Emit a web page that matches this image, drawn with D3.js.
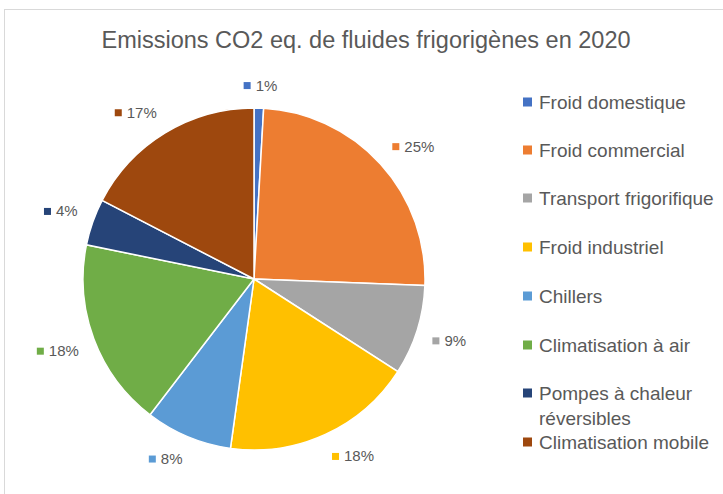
<!DOCTYPE html>
<html>
<head>
<meta charset="utf-8">
<script src="https://cdn.jsdelivr.net/npm/d3@7"></script>
<style>
  body { margin: 0; background: #fff; }
  text { font-family: "Liberation Sans", Arial, sans-serif; fill: #595959; }
</style>
</head>
<body>
<script>
const categories = ["Froid domestique", "Froid commercial", "Transport frigorifique", "Froid industriel",
  "Chillers", "Climatisation à air", "Pompes à chaleur réversibles", "Climatisation mobile"];
const values = [0.9, 24.7, 8.5, 18.1, 8.2, 17.8, 4.4, 17.4];
const pctLabels = ["1%", "25%", "9%", "18%", "8%", "18%", "4%", "17%"];
const legendLines = [["Froid domestique"], ["Froid commercial"], ["Transport frigorifique"], ["Froid industriel"],
  ["Chillers"], ["Climatisation à air"], ["Pompes à chaleur", "réversibles"], ["Climatisation mobile"]];
const colors = ["#4472C4", "#ED7D31", "#A5A5A5", "#FFC000", "#5B9BD5", "#70AD47", "#264478", "#9E480E"];

const width = 723, height = 494;
const cx = 254, cy = 279, radius = 171;

const svg = d3.select("body").append("svg")
  .attr("width", width)
  .attr("height", height);

// chart frame
svg.append("rect")
  .attr("x", 4.5).attr("y", 9.5)
  .attr("width", 760).attr("height", 520)
  .attr("fill", "none")
  .attr("stroke", "#d9d9d9");

svg.append("text")
  .attr("x", 366).attr("y", 48)
  .attr("text-anchor", "middle")
  .style("font-size", "23.5px")
  .text("Emissions CO2 eq. de fluides frigorigènes en 2020");

const pie = d3.pie().sort(null).value(d => d)
const arcs = pie(values);
const arc = d3.arc().innerRadius(0).outerRadius(radius);

const g = svg.append("g").attr("transform", `translate(${cx},${cy})`);

g.selectAll("path")
  .data(arcs)
  .enter()
  .append("path")
    .attr("d", arc)
    .attr("fill", (d, i) => colors[i])
    .attr("stroke", "#fff")
    .attr("stroke-width", 1.5);

// data labels (square + percent), placed outside the end of each slice
const clamp = v => Math.max(-1, Math.min(1, v));
const lbl = g.selectAll("g.lbl")
  .data(arcs)
  .enter()
  .append("g")
    .attr("class", "lbl");

lbl.each(function (d, i) {
  const el = d3.select(this);
  const t = el.append("text")
    .attr("x", 12).attr("y", 5.5)
    .style("font-size", "15px")
    .text(pctLabels[i]);
  el.append("rect")
    .attr("x", 0).attr("y", -3)
    .attr("width", 7).attr("height", 7)
    .attr("fill", colors[i]);
  const w = 12 + t.node().getComputedTextLength();
  const h = 14;
  const a = (d.startAngle + d.endAngle) / 2;
  const sx = Math.sin(a), sy = -Math.cos(a);
  const px = sx * (radius + 16), py = sy * (radius + 16);
  const bx = px + clamp(sx * 2.5) * w / 2;
  const by = py + clamp(sy * 2.5) * h / 2;
  el.attr("transform", `translate(${bx - w / 2},${by})`);
});

// legend
const legendY = [102, 150, 198, 247, 296, 345, 393, 442];
const legend = svg.append("g").attr("id", "legend");
legendLines.forEach((lines, i) => {
  const row = legend.append("g").attr("transform", `translate(523,${legendY[i]})`);
  row.append("rect")
    .attr("x", 0).attr("y", -4.5)
    .attr("width", 9).attr("height", 9)
    .attr("fill", colors[i]);
  lines.forEach((s, j) => {
    row.append("text")
      .attr("x", 16).attr("y", 6.5 + j * 25)
      .style("font-size", "19px")
      .text(s);
  });
});
</script>
</body>
</html>
